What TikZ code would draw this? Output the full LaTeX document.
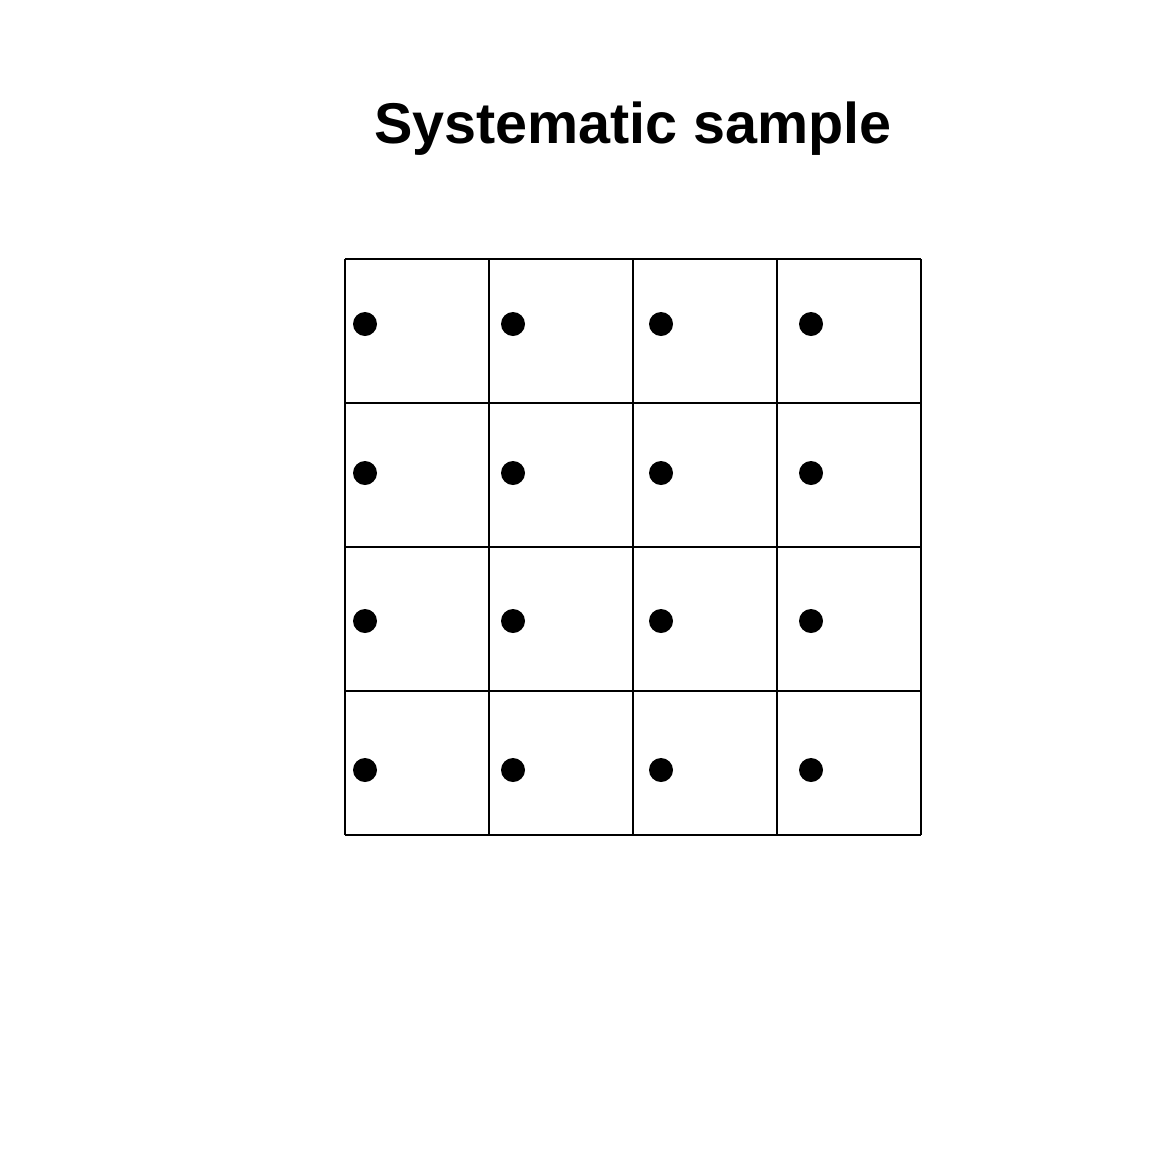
\documentclass[tikz,border=0pt]{standalone}
\usepackage{fontspec}
\setmainfont{Liberation Sans}
\begin{document}
\begin{tikzpicture}[x=1pt,y=-1pt,
  gridline/.style={line width=2.4pt,black},
  sampledot/.style={fill=black,draw=none}]
\useasboundingbox[fill=white] (0,0) rectangle (1152,1152);
\node[anchor=base,inner sep=0pt,font=\fontsize{57.5}{64}\selectfont\bfseries] (title) at (633,143) {Systematic sample};
\foreach \v in {345,489,633,777,921} {
  \draw[gridline] (\v,259) -- (\v,835);
  \draw[gridline] (345,\v-86) -- (921,\v-86);
}
\foreach \cx in {365,513,661,811} {
  \foreach \cy in {324,473,621,770} {
    \fill[sampledot] (\cx,\cy) circle (12);
  }
}
\end{tikzpicture}
\end{document}
